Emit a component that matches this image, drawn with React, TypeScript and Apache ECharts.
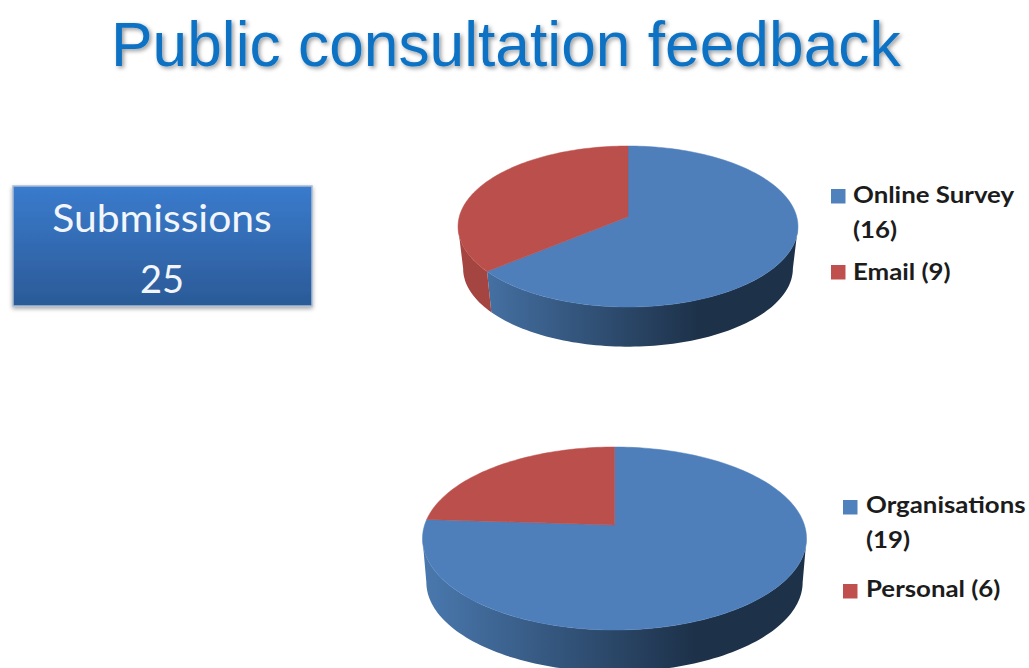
import React, { useEffect, useRef } from "react";
import * as echarts from "echarts";

const titleText = "Public consultation feedback";
const calloutLabel = "Submissions";
const calloutValue = 25;

const channelNames = ["Online Survey", "Email"];
const channelValues = [16, 9];
const respondentNames = ["Organisations", "Personal"];
const respondentValues = [19, 6];

const BLUE = "#4e7fbb";
const RED = "#bb4f4b";
const LEGEND_BLUE = "#4f81bd";
const LEGEND_RED = "#c0504d";
const TEXT_FONT = "Lato";

type Pie = {
  name: string;
  names: string[];
  values: number[];
  x0: number; y0: number; a: number; b: number; p: number;
  dy: number; scale: number; gx0: number; gx1: number;
  legendX: number; textX: number;
  markers: number[]; labelsY: number[]; wrap: boolean[];
};

const topPie: Pie = {
  name: "channel", names: channelNames, values: channelValues,
  x0: 628, y0: 216.7, a: 168.7, b: 79.3, p: 0.1217,
  dy: 42.4, scale: 0.97, gx0: 457, gx1: 798,
  legendX: 831, textX: 853, markers: [189, 265], labelsY: [176.5, 253.5], wrap: [true, false],
};
const bottomPie: Pie = {
  name: "respondent", names: respondentNames, values: respondentValues,
  x0: 614.5, y0: 525, a: 189.9, b: 89.5, p: 0.1475,
  dy: 44, scale: 0.98, gx0: 422, gx1: 807,
  legendX: 843, textX: 866, markers: [500, 584], labelsY: [486.5, 570.5], wrap: [true, false],
};

function project(pie: Pie, deg: number, lower: boolean): number[] {
  const t = (deg * Math.PI) / 180;
  const u = Math.sin(t);
  const v = Math.cos(t);
  const d = 1 + pie.p * v;
  const s = lower ? pie.scale : 1;
  const cy = lower ? pie.y0 + pie.dy : pie.y0;
  return [pie.x0 + (s * pie.a * u) / d, cy - (s * pie.b * v) / d];
}

function arcPoints(pie: Pie, from: number, to: number, lower: boolean): number[][] {
  const pts: number[][] = [];
  const n = Math.max(2, Math.ceil(Math.abs(to - from) / 1.5));
  for (let i = 0; i <= n; i++) pts.push(project(pie, from + ((to - from) * i) / n, lower));
  return pts;
}

function pieSeries(pie: Pie) {
  const total = pie.values.reduce((s, v) => s + v, 0);
  const tangent = (Math.acos(-pie.p) * 180) / Math.PI;
  return {
    type: "custom",
    name: pie.name,
    coordinateSystem: "none",
    silent: true,
    data: pie.values.map((value, i) => ({ value, name: pie.names[i] })),
    renderItem: (params: any, api: any) => {
      const idx = params.dataIndex;
      let before = 0;
      for (let i = 0; i < idx; i++) before += pie.values[i];
      const start = (before / total) * 360;
      const end = ((before + api.value(0)) / total) * 360;
      const isBlue = idx === 0;
      const children: any[] = [
        {
          type: "polygon",
          z2: 3,
          shape: { points: [[pie.x0, pie.y0], ...arcPoints(pie, start, end, false)] },
          style: { fill: isBlue ? BLUE : RED, stroke: isBlue ? BLUE : RED, lineWidth: 0.5 },
        },
      ];
      const wallStart = Math.max(start, tangent);
      const wallEnd = Math.min(end, 360 - tangent);
      if (wallEnd > wallStart) {
        const upper = arcPoints(pie, wallStart, wallEnd, false);
        const lower = arcPoints(pie, wallStart, wallEnd, true).reverse();
        children.unshift({
          type: "polygon",
          z2: 1,
          shape: { points: [...upper, ...lower] },
          style: {
            fill: isBlue
              ? new echarts.graphic.LinearGradient(
                  pie.gx0, 0, pie.gx1, 0,
                  [
                    { offset: 0, color: "#4a79af" },
                    { offset: 0.71, color: "#1d3149" },
                    { offset: 1, color: "#1d3149" },
                  ],
                  true
                )
              : "#a54541",
          },
        });
      }
      return { type: "group", children };
    },
  };
}

function legendGraphics(pie: Pie): any[] {
  const out: any[] = [];
  pie.names.forEach((name, i) => {
    out.push({
      type: "rect",
      shape: { x: pie.legendX, y: pie.markers[i], width: 14.5, height: 14.5 },
      style: { fill: i === 0 ? LEGEND_BLUE : LEGEND_RED },
    });
    out.push({
      type: "text",
      x: pie.textX,
      y: pie.labelsY[i],
      scaleX: 1.123,
      style: {
        text: `${name}${pie.wrap[i] ? "\n" : " "}(${pie.values[i]})`,
        font: `700 23px ${TEXT_FONT}`,
        lineHeight: 35,
        fill: "#1c1c1c",
        textAlign: "left",
        textVerticalAlign: "top",
      },
    });
  });
  return out;
}

export default function App() {
  const ref = useRef<HTMLDivElement>(null);
  useEffect(() => {
    document.body.style.margin = "0";
    const chart = echarts.init(ref.current!, undefined, { renderer: "svg" });
    chart.setOption({
      animation: false,
      backgroundColor: "#ffffff",
      title: {
        text: titleText,
        left: 106,
        top: 8,
        textStyle: {
          fontFamily: "Liberation Sans",
          fontSize: 62.3,
          fontWeight: "normal",
          color: "#0a72c4",
          textShadowColor: "rgba(0,0,0,0.4)",
          textShadowBlur: 4,
          textShadowOffsetX: 2,
          textShadowOffsetY: 2,
        },
      },
      series: [pieSeries(topPie), pieSeries(bottomPie)],
      graphic: [
        {
          type: "rect",
          shape: { x: 13, y: 186, width: 299, height: 120 },
          style: {
            fill: new echarts.graphic.LinearGradient(0, 0, 0, 1, [
              { offset: 0, color: "#3a7bcd" },
              { offset: 1, color: "#2b5a97" },
            ]),
            stroke: "#a9bcd6",
            lineWidth: 1.5,
            shadowColor: "rgba(0,0,0,0.35)",
            shadowBlur: 4,
            shadowOffsetY: 2,
            shadowOffsetX: 0,
          },
        },
        {
          type: "text",
          x: 162,
          y: 217,
          scaleX: 1.075,
          style: {
            text: calloutLabel,
            font: `400 38px ${TEXT_FONT}`,
            fill: "#f2f6fb",
            textAlign: "center",
            textVerticalAlign: "middle",
          },
        },
        {
          type: "text",
          x: 162,
          y: 278,
          style: {
            text: String(calloutValue),
            font: `400 38px ${TEXT_FONT}`,
            fill: "#f2f6fb",
            textAlign: "center",
            textVerticalAlign: "middle",
          },
        },
        ...legendGraphics(topPie),
        ...legendGraphics(bottomPie),
      ],
    });
    return () => chart.dispose();
  }, []);
  return (
    <div
      ref={ref}
      style={{ position: "absolute", left: 0, top: 0, width: 1029, height: 668, overflow: "hidden" }}
    />
  );
}
